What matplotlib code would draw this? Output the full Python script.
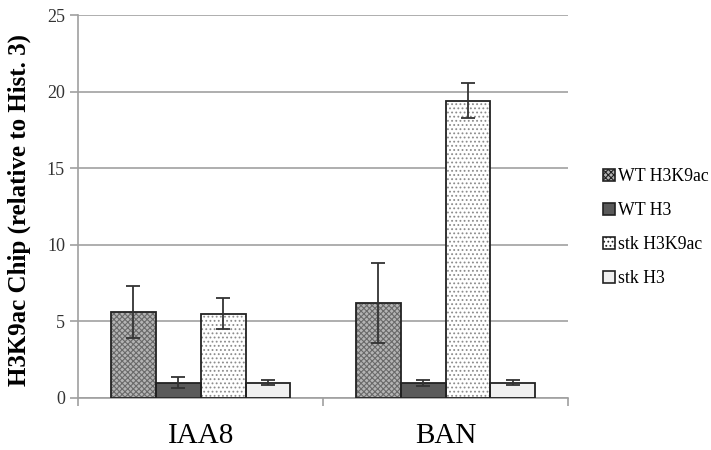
import matplotlib
matplotlib.use("Agg")
import matplotlib.pyplot as plt
import numpy as np
from matplotlib.patches import Patch

categories = ["IAA8", "BAN"]
series = ["WT H3K9ac", "WT H3", "stk H3K9ac", "stk H3"]
values = {
    "WT H3K9ac": [5.6, 6.2],
    "WT H3": [1.0, 1.0],
    "stk H3K9ac": [5.5, 19.4],
    "stk H3": [1.0, 1.0],
}
errors = {
    "WT H3K9ac": [1.7, 2.6],
    "WT H3": [0.35, 0.2],
    "stk H3K9ac": [1.0, 1.15],
    "stk H3": [0.15, 0.15],
}
yticks = [0, 5, 10, 15, 20, 25]

faces = ["#b4b4b4", "#5a5a5a", "#ffffff", "#f0f0f0"]
hatches = ["xxxxxx", None, "....", None]
hcolors = ["#6a6a6a", None, "#8c8c8c", None]

plt.rcParams['font.family'] = ['Liberation Serif', 'DejaVu Serif']
plt.rcParams['hatch.linewidth'] = 0.8

fig = plt.figure(figsize=(7.11, 4.5), dpi=100)
ax = fig.add_axes([0.11, 0.1156, 0.689, 0.851])

x = np.arange(len(categories))
w = 0.183
for i, s in enumerate(series):
    pos = x + (i - 1.5) * w
    if hatches[i]:
        ax.bar(pos, values[s], w, color=faces[i], edgecolor=hcolors[i], hatch=hatches[i], linewidth=0, zorder=2)
    else:
        ax.bar(pos, values[s], w, color=faces[i], linewidth=0, zorder=2)
    ax.bar(pos, values[s], w, fill=False, edgecolor="#222222", linewidth=1.3, zorder=3)
    ax.errorbar(pos, values[s], yerr=errors[s], fmt='none', ecolor="#333333", elinewidth=1.3, capsize=5, capthick=1.3, zorder=4)

ax.set_xlim(-0.5, 1.5)
ax.set_ylim(0, 25)
ax.set_yticks(yticks)
ax.yaxis.grid(True, color="#a8a8a8", linewidth=1.3, zorder=0)
ax.set_axisbelow(True)
ax.set_xticks([-0.5, 0.5, 1.5], minor=False)
ax.set_xticklabels([])
ax.set_xticks(x, minor=True)
ax.set_xticklabels(categories, minor=True, fontsize=21)
ax.tick_params(axis='x', which='minor', length=0, pad=18)
ax.tick_params(axis='x', which='major', length=6, color="#a0a0a0", width=1.2)
ax.tick_params(axis='y', length=6, color="#a0a0a0", width=1.2, labelsize=13, labelcolor="#333333")
for sp in ["top", "right"]:
    ax.spines[sp].set_visible(False)
for sp in ["left", "bottom"]:
    ax.spines[sp].set_color("#a0a0a0")
    ax.spines[sp].set_linewidth(1.2)
ax.set_ylabel("H3K9ac Chip (relative to Hist. 3)", fontsize=18, fontweight='bold')
ax.yaxis.set_label_coords(-0.097, 0.49)

handles = []
for i, s in enumerate(series):
    handles.append(Patch(facecolor=faces[i], edgecolor="#222222", hatch=hatches[i], label=s, linewidth=1.2))
leg = fig.legend(handles=handles, loc='center left', bbox_to_anchor=(0.826, 0.494), frameon=False,
                 fontsize=12.8, handlelength=0.65, handleheight=0.65, handletextpad=0.2, labelspacing=0.95)

fig.savefig("out.png", dpi=100)
